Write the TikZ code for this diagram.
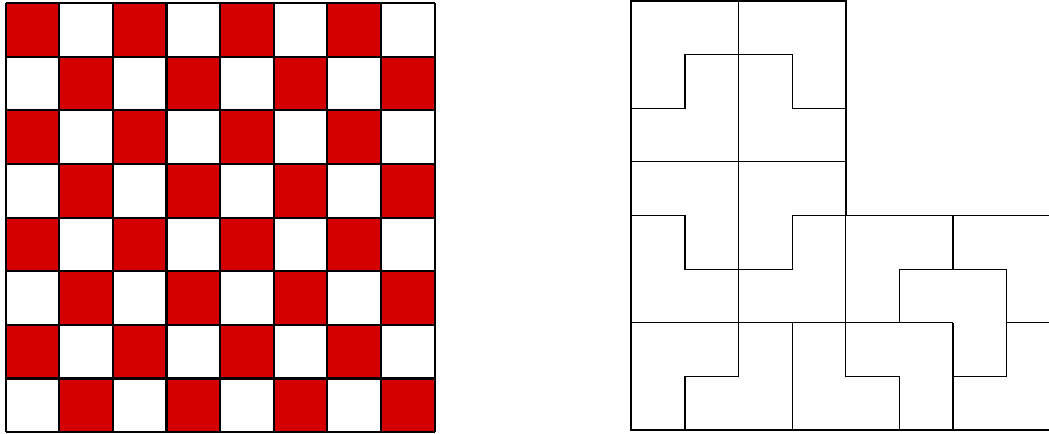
\documentclass[tikz,border=0pt]{standalone}
\usepackage{tikz}
\usetikzlibrary{calc}
\definecolor{boardred}{RGB}{212,0,0}
\tikzset{
  boardline/.style={draw=black,line width=1.1pt},
  tileedge/.style={draw=black,line width=1.0pt,line join=miter},
  tileline/.style={draw=black,line width=0.6pt}
}

\begin{document}
\begin{tikzpicture}[x=1cm,y=1cm]
  \clip (-0.106,-0.02) rectangle (19.46,8.06);

  % checkerboard
  \foreach \i in {0,...,7} {
    \foreach \j in {0,...,7} {
      \pgfmathtruncatemacro{\odd}{mod(\i+\j,2)}
      \ifnum\odd=1 \fill[boardred] (\i,\j) rectangle ++(1,1); \fi
    }
  }
  \draw[boardline] (0,0) grid (8,8);

  % tromino tiling
  \begin{scope}[shift={(11.67,0.04)}]
    \draw[tileline] (2,8) -- (2,1);
    \draw[tileline] (0,6) -- (1,6) -- (1,7) -- (3,7) -- (3,6) -- (4,6);
    \draw[tileline] (0,5) -- (4,5);
    \draw[tileline] (0,4) -- (1,4) -- (1,3) -- (3,3) -- (3,4) -- (4,4);
    \draw[tileline] (0,2) -- (6,2);
    \draw[tileline] (7,2) -- (8,2);
    \draw[tileline] (1,0) -- (1,1) -- (2,1);
    \draw[tileline] (3,2) -- (3,0);
    \draw[tileline] (4,4) -- (4,1) -- (5,1) -- (5,0);
    \draw[tileline] (6,4) -- (6,3);
    \draw[tileline] (5,2) -- (5,3) -- (7,3) -- (7,1) -- (6,1);
    \draw[tileline] (6,2) -- (6,0);
    \draw[tileedge] (0,0) -- (0,8) -- (4,8) -- (4,4) -- (8,4) -- (8,0) -- cycle;
  \end{scope}
\end{tikzpicture}
\end{document}
